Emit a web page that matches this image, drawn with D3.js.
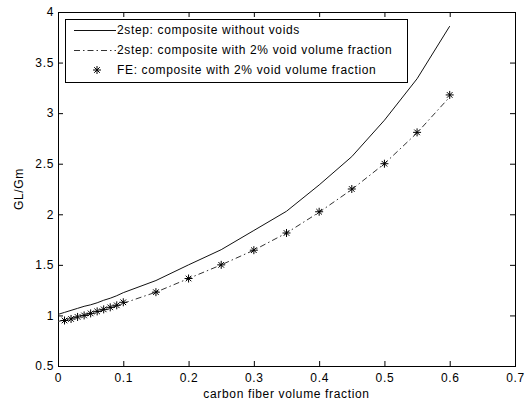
<!doctype html>
<html>
<head>
<meta charset="utf-8">
<style>
  body { margin: 0; background: #fff; }
  svg text { font-family: "Liberation Sans", Arial, sans-serif; font-size: 12px; letter-spacing: 0.65px; fill: #000; }
</style>
</head>
<body>
<svg width="526" height="407"></svg>
<script src="https://cdn.jsdelivr.net/npm/d3@7"></script>
<script>
// curve sample points (fiber volume fraction)
var fracX = [0, 0.01, 0.02, 0.03, 0.04, 0.05, 0.06, 0.07, 0.08, 0.09, 0.1,
             0.15, 0.2, 0.25, 0.3, 0.35, 0.4, 0.45, 0.5, 0.55, 0.6];
// 2step: composite without voids
var noVoid = [1.01, 1.03, 1.05, 1.07, 1.09, 1.105, 1.125, 1.15, 1.17, 1.195, 1.225,
              1.345, 1.50, 1.65, 1.84, 2.03, 2.29, 2.57, 2.93, 3.34, 3.86];
// 2step: composite with 2% voids
var withVoid = [0.94, 0.955, 0.97, 0.985, 1.0, 1.02, 1.035, 1.055, 1.075, 1.095, 1.12,
                1.23, 1.365, 1.50, 1.645, 1.815, 2.02, 2.245, 2.50, 2.805, 3.16];
// FE results
var feX = [0.01, 0.02, 0.03, 0.04, 0.05, 0.06, 0.07, 0.08, 0.09, 0.1,
           0.15, 0.2, 0.25, 0.3, 0.35, 0.4, 0.45, 0.5, 0.55, 0.6];
var feY = [0.95, 0.965, 0.985, 1.0, 1.02, 1.04, 1.06, 1.08, 1.10, 1.13,
           1.23, 1.365, 1.50, 1.645, 1.815, 2.025, 2.25, 2.50, 2.81, 3.18];

var xTicks = [0, 0.1, 0.2, 0.3, 0.4, 0.5, 0.6, 0.7];
var yTicks = [0.5, 1, 1.5, 2, 2.5, 3, 3.5, 4];
var legendLabels = ["2step: composite without voids",
                    "2step: composite with 2% void volume fraction",
                    "FE: composite with 2% void volume fraction"];

var svg = d3.select("svg"),
    pL = 58, pR = 515, pT = 12, pB = 366;

var x = d3.scaleLinear().domain([0, 0.7]).range([pL, pR]);
var y = d3.scaleLinear().domain([0.5, 4]).range([pB, pT]);
var fmt = d3.format("~g");

// axes, ticks inward on all four sides
svg.append("g").attr("transform", "translate(0," + pB + ")")
    .call(d3.axisBottom(x).tickValues(xTicks).tickFormat(fmt).tickSizeInner(-5).tickSizeOuter(0).tickPadding(7))
    .call(function(g) { g.select(".domain").remove(); });
svg.append("g").attr("transform", "translate(0," + pT + ")")
    .call(d3.axisTop(x).tickValues(xTicks).tickFormat("").tickSizeInner(-5).tickSizeOuter(0))
    .call(function(g) { g.select(".domain").remove(); });
svg.append("g").attr("transform", "translate(" + pL + ",0)")
    .call(d3.axisLeft(y).tickValues(yTicks).tickFormat(fmt).tickSizeInner(-5).tickSizeOuter(0).tickPadding(4))
    .call(function(g) { g.select(".domain").remove(); });
svg.append("g").attr("transform", "translate(" + pR + ",0)")
    .call(d3.axisRight(y).tickValues(yTicks).tickFormat("").tickSizeInner(-5).tickSizeOuter(0))
    .call(function(g) { g.select(".domain").remove(); });

svg.selectAll("g").attr("font-family", null).attr("font-size", null);

svg.append("rect")
    .attr("x", pL + 0.5).attr("y", pT + 0.5)
    .attr("width", pR - pL).attr("height", pB - pT)
    .attr("fill", "none").attr("stroke", "#000");

// lines
var line = d3.line().x(function(d) { return x(d[0]); }).y(function(d) { return y(d[1]); });

svg.append("path")
    .datum(d3.zip(fracX, noVoid))
    .attr("fill", "none").attr("stroke", "#111").attr("stroke-width", 1)
    .attr("d", line);

svg.append("path")
    .datum(d3.zip(fracX, withVoid))
    .attr("fill", "none").attr("stroke", "#333").attr("stroke-width", 1)
    .attr("stroke-dasharray", "6,3,1.5,3")
    .attr("d", line);

// star marker
function star(s) {
  var d = s * 0.7;
  return "M" + (-s) + ",0H" + s + "M0," + (-s) + "V" + s +
         "M" + (-d) + "," + (-d) + "L" + d + "," + d +
         "M" + (-d) + "," + d + "L" + d + "," + (-d);
}

svg.append("g").selectAll("path")
    .data(d3.zip(feX, feY))
  .enter().append("path")
    .attr("transform", function(d) { return "translate(" + x(d[0]) + "," + y(d[1]) + ")"; })
    .attr("d", star(4))
    .attr("fill", "none").attr("stroke", "#000").attr("stroke-width", 1);

// axis titles
svg.append("text")
    .attr("x", (pL + pR) / 2).attr("y", 398)
    .attr("text-anchor", "middle")
    .text("carbon fiber volume fraction");

svg.append("text")
    .attr("transform", "translate(23," + ((pT + pB) / 2) + ") rotate(-90)")
    .attr("text-anchor", "middle")
    .text("GL/Gm");

// legend
var lg = svg.append("g");
lg.append("rect")
    .attr("x", 65.5).attr("y", 19.5).attr("width", 342).attr("height", 63)
    .attr("fill", "#fff").attr("stroke", "#000");

var rows = [30, 50, 70];
lg.append("line").attr("x1", 74).attr("x2", 116).attr("y1", rows[0] + 0.5).attr("y2", rows[0] + 0.5)
    .attr("stroke", "#111");
lg.append("line").attr("x1", 74).attr("x2", 116).attr("y1", rows[1] + 0.5).attr("y2", rows[1] + 0.5)
    .attr("stroke", "#333").attr("stroke-dasharray", "6,3,1.5,3");
lg.append("path").attr("transform", "translate(97," + rows[2] + ")")
    .attr("d", star(4)).attr("fill", "none").attr("stroke", "#000").attr("stroke-width", 1);

lg.selectAll("text.leg")
    .data(legendLabels)
  .enter().append("text")
    .attr("class", "leg")
    .attr("x", 117)
    .attr("y", function(d, i) { return rows[i]; })
    .attr("dy", "0.35em")
    .text(function(d) { return d; });
</script>
</body>
</html>
